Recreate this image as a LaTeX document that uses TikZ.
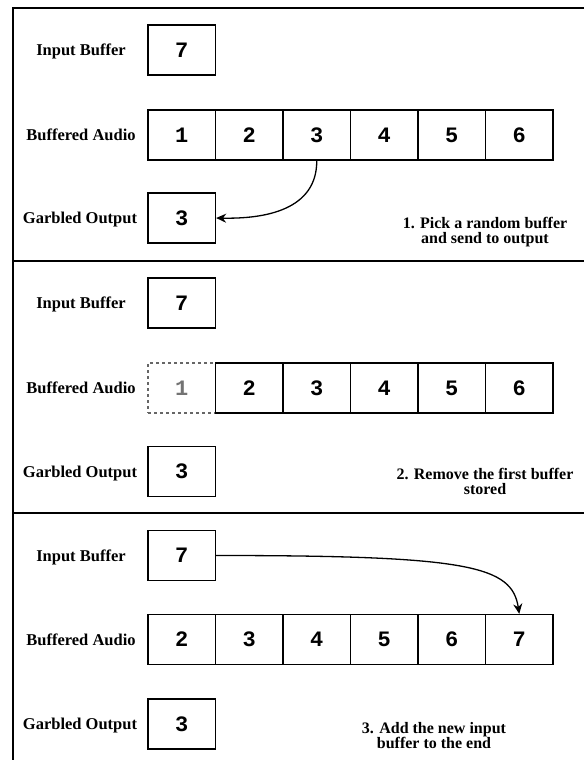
\documentclass[tikz,border=0pt]{standalone}
\usepackage{fontspec}
\setmainfont{Liberation Serif}
\newfontfamily\numfont{Liberation Mono}
\usetikzlibrary{arrows.meta}
\tikzset{
  cell/.style={draw, line width=1.3pt, minimum width=67.5pt, minimum height=50pt, inner sep=0pt,
    font=\numfont\bfseries\fontsize{22}{22}\selectfont},
  ghost/.style={cell, draw=black!60, dash pattern=on 3pt off 3pt, text=black!55},
  lbl/.style={font=\bfseries\fontsize{16.5}{16.5}\selectfont, inner sep=0pt, text height=11pt, text depth=0pt},
  steptext/.style={font=\bfseries\fontsize{16}{15}\selectfont, align=center, inner sep=0pt},
  frameline/.style={line width=1.3pt},
  link/.style={line width=1.3pt, -{Stealth[length=10pt,width=9pt]}},
}
\begin{document}
\begin{tikzpicture}[x=1pt,y=-1pt]
\useasboundingbox (0,0) rectangle (584,760);
% frame
\coordinate (tl) at (13,8);
\coordinate (tr) at (584,8);
\coordinate (bl) at (13,760);
\coordinate (s1l) at (13,261);
\coordinate (s1r) at (584,261);
\coordinate (s2l) at (13,513);
\coordinate (s2r) at (584,513);
\draw[frameline] (tr) -- (tl) -- (bl);
\draw[frameline] (s1l) -- (s1r);
\draw[frameline] (s2l) -- (s2r);

% ---------- panel 1 ----------
\node[lbl] (l1in) at (81,50) {Input Buffer};
\node[cell] (in1) at (181.75,50) {7};
\node[lbl] (l1buf) at (81,135) {Buffered Audio};
\foreach \i in {1,...,6}{
  \node[cell] (p1b\i) at ({181.75+67.5*(\i-1)},135) {\i};
}
\node[lbl] (l1out) at (80,218) {Garbled Output};
\node[cell] (out1) at (181.75,218) {3};
\node[steptext] (st1) at (485,232) {1. Pick a random buffer\\and send to output};
\draw[link] (p1b3.south) .. controls (317,210) and (265,219) .. (out1.east);

% ---------- panel 2 ----------
\node[lbl] (l2in) at (81,303) {Input Buffer};
\node[cell] (in2) at (181.75,303) {7};
\node[lbl] (l2buf) at (81,388) {Buffered Audio};
\node[ghost] (p2b1) at (181.75,388) {1};
\foreach \i in {2,...,6}{
  \node[cell] (p2b\i) at ({181.75+67.5*(\i-1)},388) {\i};
}
\node[lbl] (l2out) at (80,471.5) {Garbled Output};
\node[cell] (out2) at (181.75,471.5) {3};
\node[steptext] (st2) at (485,481) {2. Remove the first buffer\\stored};

% ---------- panel 3 ----------
\node[lbl] (l3in) at (81,555.5) {Input Buffer};
\node[cell] (in3) at (181.75,555.5) {7};
\node[lbl] (l3buf) at (81,639.5) {Buffered Audio};
\foreach \i [count=\k from 0] in {2,...,7}{
  \node[cell] (p3b\i) at ({181.75+67.5*\k},639.5) {\i};
}
\node[lbl] (l3out) at (80,724) {Garbled Output};
\node[cell] (out3) at (181.75,724) {3};
\node[steptext] (st3) at (434,736) {3. Add the new input\\buffer to the end};
\draw[link] (in3.east) .. controls (470,555.5) and (512,566) .. (p3b7.north);
\end{tikzpicture}
\end{document}
